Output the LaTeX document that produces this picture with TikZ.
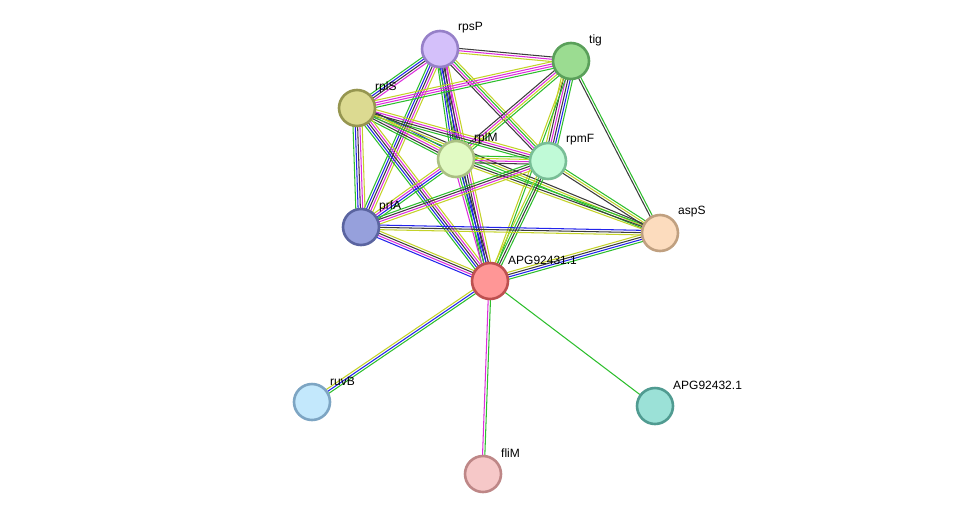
\documentclass[tikz,border=0pt]{standalone}
\usepackage{fontspec}
\setmainfont{Liberation Sans}
\usetikzlibrary{calc,backgrounds}
\definecolor{eG}{RGB}{45,190,45}
\definecolor{eB}{RGB}{35,35,235}
\definecolor{eK}{RGB}{60,60,60}
\definecolor{eM}{RGB}{220,45,220}
\definecolor{eY}{RGB}{195,210,40}
\tikzset{
  prot/.style={circle,minimum size=36pt,inner sep=0pt,line width=2.6pt},
  lbl/.style={anchor=west,font=\fontsize{12pt}{12pt}\selectfont,inner sep=0pt},
  eline/.style={line width=1.05pt}
}
\newcommand\pedge[4]{%
  \foreach \cc [count=\ii] in {#4} {%
    \pgfmathsetmacro\oo{(\ii-(#3+1)/2)*2.3}%
    \draw[eline,draw=\cc] ($(#1.center)!\oo pt!90:(#2.center)$) -- ($(#2.center)!\oo pt!-90:(#1.center)$);
  }%
}
\begin{document}
\begin{tikzpicture}[x=1pt,y=-1pt]
\useasboundingbox (0,0) rectangle (976,520);
\node[prot,fill={rgb,255:red,212;green,192;blue,250},draw={rgb,255:red,150;green,128;blue,200}] (rpsP) at (440,49) {};
\node[prot,fill={rgb,255:red,155;green,220;blue,145},draw={rgb,255:red,90;green,160;blue,90}] (tig) at (571,61) {};
\node[prot,fill={rgb,255:red,220;green,218;blue,145},draw={rgb,255:red,150;green,150;blue,80}] (rplS) at (357,108) {};
\node[prot,fill={rgb,255:red,225;green,250;blue,195},draw={rgb,255:red,170;green,192;blue,130}] (rplM) at (456,159) {};
\node[prot,fill={rgb,255:red,192;green,250;blue,215},draw={rgb,255:red,120;green,190;blue,150}] (rpmF) at (548,161) {};
\node[prot,fill={rgb,255:red,150;green,160;blue,220},draw={rgb,255:red,90;green,100;blue,160}] (prfA) at (361,227) {};
\node[prot,fill={rgb,255:red,252;green,220;blue,190},draw={rgb,255:red,192;green,160;blue,128}] (aspS) at (660,233) {};
\node[prot,fill={rgb,255:red,255;green,150;blue,150},draw={rgb,255:red,190;green,80;blue,80}] (a431) at (490,281) {};
\node[prot,fill={rgb,255:red,195;green,232;blue,252},draw={rgb,255:red,125;green,165;blue,195}] (ruvB) at (312,402) {};
\node[prot,fill={rgb,255:red,155;green,225;blue,215},draw={rgb,255:red,80;green,155;blue,145}] (a432) at (655,406) {};
\node[prot,fill={rgb,255:red,246;green,200;blue,200},draw={rgb,255:red,190;green,135;blue,135}] (fliM) at (483,474) {};
\foreach \n/\t in {rpsP/rpsP,tig/tig,rplS/rplS,rplM/rplM,rpmF/rpmF,prfA/prfA,aspS/aspS,a431/APG92431.1,ruvB/ruvB,a432/APG92432.1,fliM/fliM}
  \node[lbl] (l\n) at ($(\n.center)+(18,-21)$) {\t};
\begin{pgfonlayer}{background}
\pedge{rpsP}{tig}{3}{eY,eM,eK}
\pedge{rpsP}{rplS}{4}{eG,eB,eK,eM}
\pedge{rpsP}{rplM}{5}{eG,eB,eK,eK,eM}
\pedge{rpsP}{rpmF}{4}{eK,eM,eG,eY}
\pedge{rpsP}{prfA}{5}{eG,eB,eK,eM,eY}
\pedge{rpsP}{a431}{5}{eG,eB,eK,eM,eY}
\pedge{tig}{rplS}{4}{eY,eM,eM,eG}
\pedge{tig}{rplM}{4}{eK,eM,eY,eG}
\pedge{tig}{rpmF}{6}{eY,eK,eM,eK,eB,eG}
\pedge{tig}{aspS}{2}{eK,eG}
\pedge{tig}{a431}{2}{eY,eG}
\pedge{rplS}{rplM}{5}{eG,eK,eM,eY,eB}
\pedge{rplS}{rpmF}{4}{eG,eK,eM,eY}
\pedge{rplS}{prfA}{5}{eG,eB,eK,eM,eY}
\pedge{rplS}{a431}{5}{eG,eB,eK,eM,eY}
\pedge{rplS}{aspS}{3}{eG,eY,eK}
\pedge{rplM}{rpmF}{4}{eK,eM,eY,eG}
\pedge{rplM}{prfA}{4}{eY,eM,eB,eG}
\pedge{rplM}{a431}{4}{eM,eG,eB,eK}
\pedge{rplM}{aspS}{3}{eY,eK,eG}
\pedge{rpmF}{prfA}{4}{eG,eK,eM,eY}
\pedge{rpmF}{a431}{4}{eY,eG,eK,eG}
\pedge{rpmF}{aspS}{3}{eK,eY,eG}
\pedge{prfA}{aspS}{3}{eY,eK,eB}
\pedge{prfA}{a431}{4}{eB,eM,eK,eY}
\pedge{aspS}{a431}{4}{eY,eK,eB,eG}
\pedge{a431}{ruvB}{3}{eY,eB,eG}
\pedge{a431}{fliM}{2}{eM,eG}
\pedge{a431}{a432}{1}{eG}
\end{pgfonlayer}
\end{tikzpicture}
\end{document}
